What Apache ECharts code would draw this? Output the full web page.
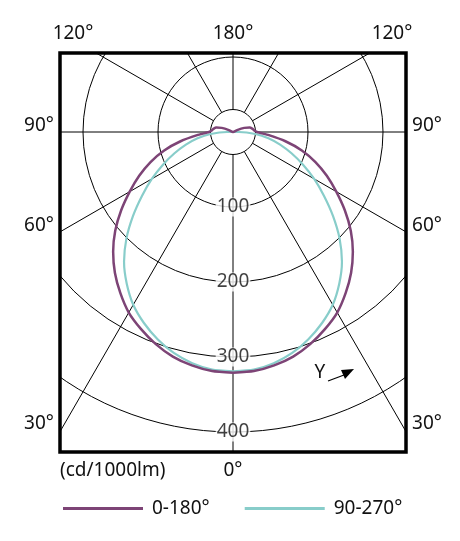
<!DOCTYPE html>
<html>
<head>
<meta charset="utf-8">
<script src="https://cdn.jsdelivr.net/npm/echarts@6/dist/echarts.min.js"></script>
<style>
html,body{margin:0;padding:0;background:#fff;}
#chart{width:460px;height:541px;}
</style>
</head>
<body>
<div id="chart"></div>
<script>
// gamma angles (deg from nadir)
const angles = [0,5,10,15,20,25,30,35,40,45,50,55,60,65,70,75,80,85,90,95,100,105,110,115,120,125,130,135,140,145,150,155,160,165,170,175,180];
// intensity cd/1000lm, C0-180 plane
const c0_180 = [321,320,316,310,301,290,278,262,245,226,205,182,159,138,117,95,71,48,32,28,26,23,16,6,0,0,0,0,0,0,0,0,0,0,0,0,0];
// intensity cd/1000lm, C90-270 plane
const c90_270 = [319,318,313,305,294,281,266,247,226,201,174,148,125,103,83,65,48,30,8,0,0,0,0,0,0,0,0,0,0,0,0,0,0,0,0,0,0];
const radiusTicks = [100,200,300,400];
const innerRingValue = 30;
const seriesNames = ['0-180°','90-270°'];

function mirror(vals){
  const left = angles.map((a,i)=>[vals[i], a]);
  const right = angles.slice().reverse().map((a,k)=>{const i=angles.length-1-k; return [vals[i], 360-a];});
  return left.concat(right);
}
const ringData = [];
for (let a=0;a<=360;a+=5) ringData.push([innerRingValue,a]);

const FONT = '"Noto Sans", "Open Sans", sans-serif';
const fs = 19;
function txt(t,x,y,align){
  return {type:'text', z:110, style:{text:t, x:x, y:y, fill:'#111', font: fs+'px '+FONT,
    textAlign: align||'center', textVerticalAlign:'middle', align: align||'center', verticalAlign:'middle'}};
}

const chart = echarts.init(document.getElementById('chart'));
chart.setOption({
  animation:false,
  backgroundColor:'#fff',
  polar:{center:[233,132], radius:450},
  angleAxis:{type:'value', min:0, max:360, interval:30, startAngle:270, clockwise:true,
    axisLine:{show:false}, axisTick:{show:false}, axisLabel:{show:false},
    splitLine:{show:true, lineStyle:{color:'#000', width:1}}},
  radiusAxis:{type:'value', min:0, max:600, interval:100,
    axisLine:{show:false}, axisTick:{show:false}, axisLabel:{show:false},
    splitLine:{show:true, lineStyle:{color:'#000', width:1}}},
  legend:{data:seriesNames, z:120, left:58, top:494, itemWidth:80, itemHeight:3, itemGap:35, icon:'rect',
    textStyle:{fontSize:fs, fontFamily:FONT, color:'#111', padding:[0,0,0,4]}},
  series:[
    {type:'line', coordinateSystem:'polar', data:ringData, showSymbol:false, z:2, silent:true,
      lineStyle:{color:'#000', width:1}, areaStyle:{color:'#fff', opacity:1}},
    {name:seriesNames[0], type:'line', coordinateSystem:'polar', data:mirror(c0_180), showSymbol:false, z:4, smooth:0.2,
      lineStyle:{color:'#7d4476', width:2.5}, itemStyle:{color:'#7d4476'}},
    {name:seriesNames[1], type:'line', coordinateSystem:'polar', data:mirror(c90_270), showSymbol:false, z:3, smooth:0.2,
      lineStyle:{color:'#88cdca', width:2.2}, itemStyle:{color:'#88cdca'}},
    {type:'scatter', coordinateSystem:'polar', data:radiusTicks.map(v=>[v,0]), symbolSize:0, z:5, silent:true,
      label:{show:true, position:'inside', formatter:p=>String(p.value[0]), fontSize:fs, fontFamily:FONT,
        color:'#111', backgroundColor:'#fff', padding:[0,1]}}
  ],
  graphic:[
    {type:'rect', z:100, shape:{x:0,y:0,width:460,height:53}, style:{fill:'#fff'}},
    {type:'rect', z:100, shape:{x:0,y:452,width:460,height:89}, style:{fill:'#fff'}},
    {type:'rect', z:100, shape:{x:0,y:0,width:60,height:541}, style:{fill:'#fff'}},
    {type:'rect', z:100, shape:{x:406,y:0,width:54,height:541}, style:{fill:'#fff'}},
    {type:'rect', z:105, shape:{x:60,y:53,width:346,height:399}, style:{fill:null, stroke:'#000', lineWidth:3.5}},
    txt('120°',73,34), txt('180°',233,34), txt('120°',392,34),
    txt('90°',39,126), txt('90°',427,126),
    txt('60°',39,226), txt('60°',427,226),
    txt('30°',39,424), txt('30°',427,424),
    txt('0°',233,471), txt('(cd/1000lm)',60,471,'left'),
    txt('Y',320,373),
    {type:'line', z:110, shape:{x1:328,y1:381,x2:344,y2:375}, style:{stroke:'#000', lineWidth:1.2}},
    {type:'polygon', z:110, shape:{points:[[354,369],[341,370],[345,379]]}, style:{fill:'#000'}}
  ]
});
</script>
</body>
</html>
